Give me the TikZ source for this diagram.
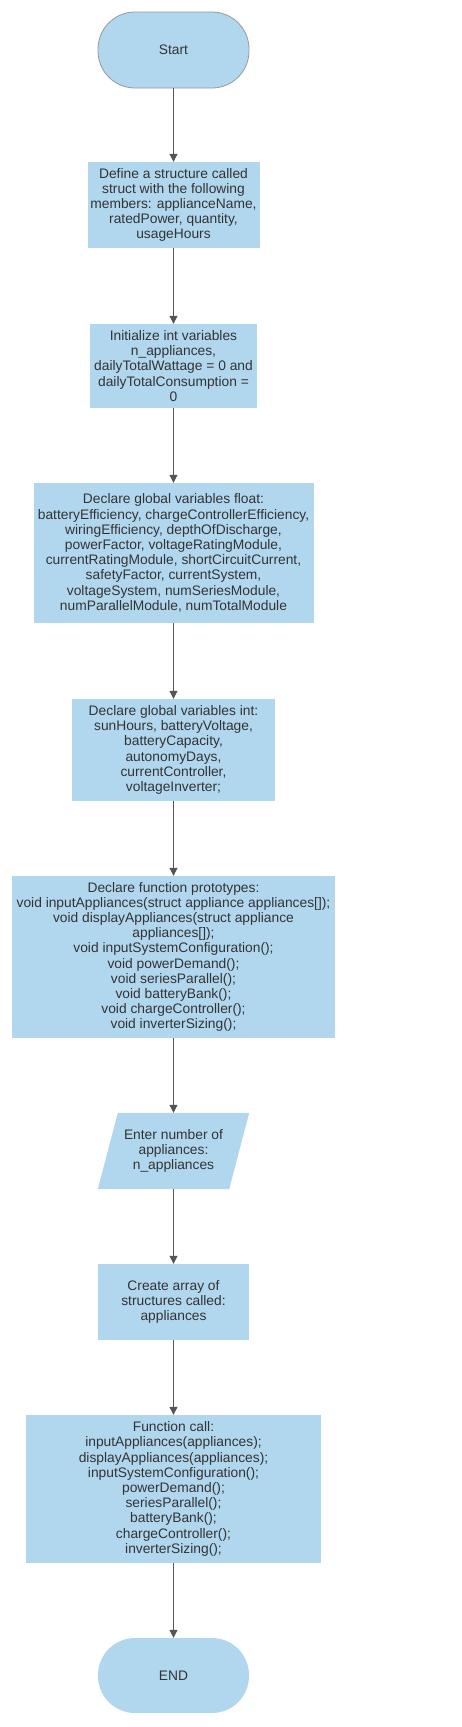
\documentclass[tikz,border=0pt]{standalone}
\usepackage{fontspec}
\setmainfont{Liberation Sans}
\usetikzlibrary{arrows.meta,backgrounds}
\definecolor{boxfill}{HTML}{B1D7EE}
\definecolor{txt}{HTML}{333333}
\definecolor{arr}{HTML}{555555}
\definecolor{bord}{HTML}{999999}
\begin{document}
\begin{tikzpicture}[x=1pt,y=-1pt,
  every node/.style={font=\fontsize{13.8}{15.2}\selectfont, text=txt, align=center, inner sep=0pt},
  procbox/.style={rectangle, fill=boxfill},
  term/.style={rectangle, fill=boxfill, rounded corners=37pt, minimum width=151pt, minimum height=76pt},
  flow/.style={draw=arr, line width=1pt, -{Triangle[length=8pt,width=8pt]}}]
\useasboundingbox (0,0) rectangle (461,1727);

\node[term, draw=bord, line width=0.8pt] (start) at (173.5,50) {Start};
\node[procbox, minimum width=172pt, minimum height=86pt] (define) at (173.5,205)
  {Define a structure called\\struct with the following\\members: applianceName,\\ratedPower, quantity,\\usageHours};
\node[procbox, minimum width=167pt, minimum height=84pt] (init) at (173.5,366)
  {Initialize int variables\\n\_appliances,\\dailyTotalWattage = 0 and\\dailyTotalConsumption =\\0};
\node[procbox, minimum width=280pt, minimum height=140pt] (float) at (173.5,553)
  {Declare global variables float:\\batteryEfficiency, chargeControllerEfficiency,\\wiringEfficiency, depthOfDischarge,\\powerFactor, voltageRatingModule,\\currentRatingModule, shortCircuitCurrent,\\safetyFactor, currentSystem,\\voltageSystem, numSeriesModule,\\numParallelModule, numTotalModule};
\node[procbox, minimum width=203pt, minimum height=102pt] (int) at (173.5,750)
  {Declare global variables int:\\sunHours, batteryVoltage,\\batteryCapacity,\\autonomyDays,\\currentController,\\voltageInverter;};
\node[procbox, minimum width=323pt, minimum height=162pt] (proto) at (173.5,957)
  {Declare function prototypes:\\void inputAppliances(struct appliance appliances[]);\\void displayAppliances(struct appliance\\appliances[]);\\void inputSystemConfiguration();\\void powerDemand();\\void seriesParallel();\\void batteryBank();\\void chargeController();\\void inverterSizing();};
\node[rectangle, minimum width=151pt, minimum height=76pt] (input) at (173.5,1151)
  {Enter number of\\appliances:\\n\_appliances};
\begin{scope}[on background layer]
  \fill[boxfill] ([xshift=20pt]input.north west) -- (input.north east)
    -- ([xshift=-20pt]input.south east) -- (input.south west) -- cycle;
\end{scope}
\node[procbox, minimum width=151pt, minimum height=76pt] (array) at (173.5,1302)
  {Create array of\\structures called:\\appliances};
\node[procbox, minimum width=295pt, minimum height=148pt] (call) at (173.5,1489)
  {Function call:\\inputAppliances(appliances);\\displayAppliances(appliances);\\inputSystemConfiguration();\\powerDemand();\\seriesParallel();\\batteryBank();\\chargeController();\\inverterSizing();};
\node[term, minimum height=75pt] (end) at (173.5,1675.5) {END};

\draw[flow] (start) -- (define);
\draw[flow] (define) -- (init);
\draw[flow] (init) -- (float);
\draw[flow] (float) -- (int);
\draw[flow] (int) -- (proto);
\draw[flow] (proto) -- (input);
\draw[flow] (input) -- (array);
\draw[flow] (array) -- (call);
\draw[flow] (call) -- (end);
\end{tikzpicture}
\end{document}
